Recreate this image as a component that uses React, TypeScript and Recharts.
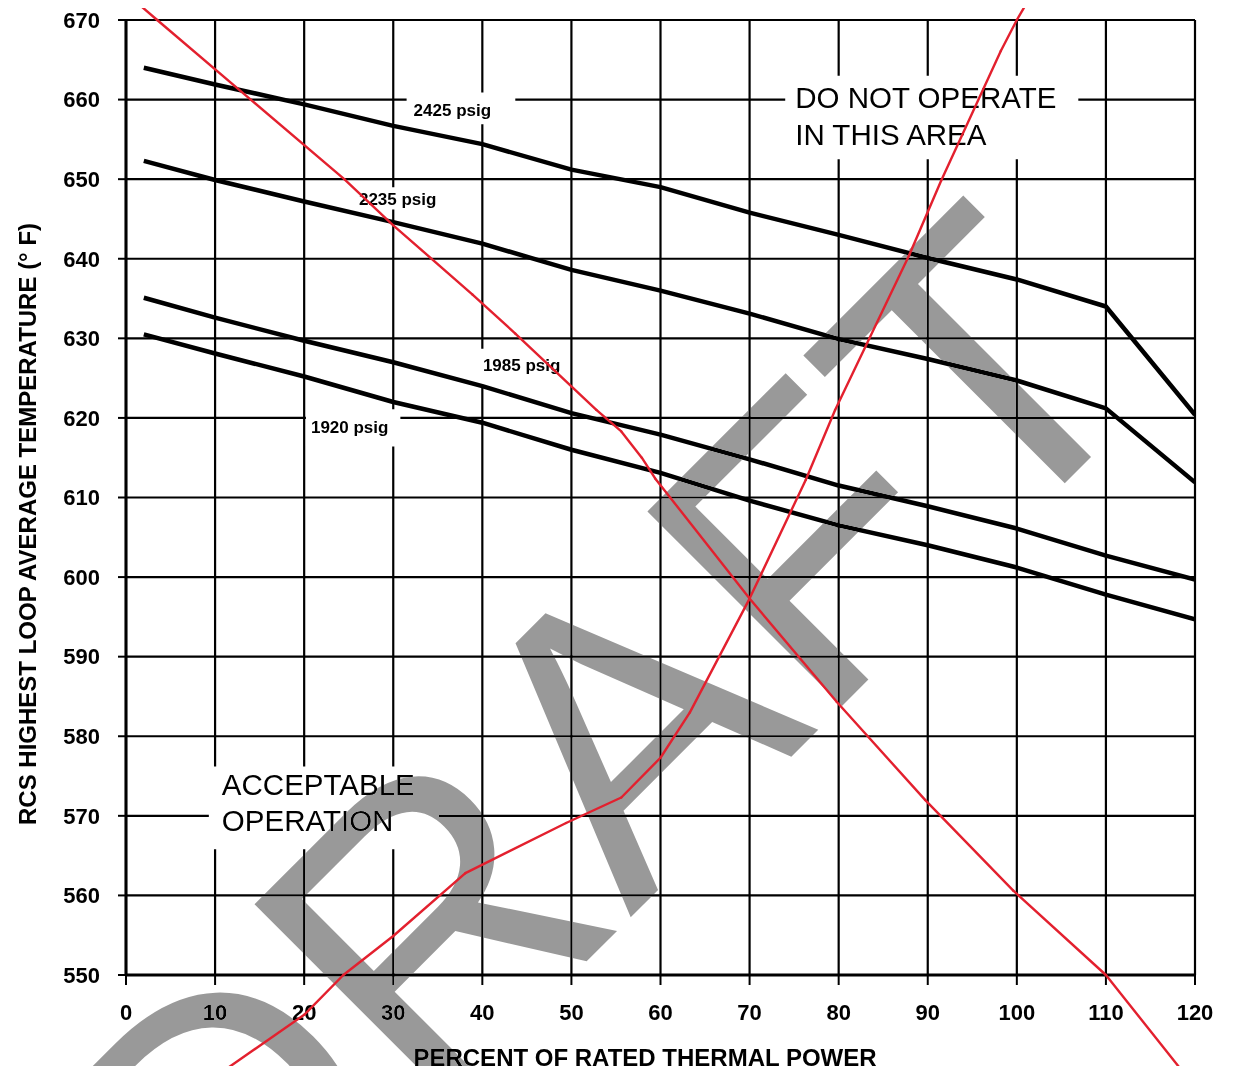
import React from 'react';
import { LineChart, Line, XAxis, YAxis, CartesianGrid, ReferenceArea, ReferenceLine } from 'recharts';

const W = 1236;
const H = 1074;
const MARGIN = { top: 20, right: 41, bottom: 39, left: 26 };
const FONT = '"Liberation Sans", Arial, Helvetica, sans-serif';

// Axis ticks
const xTicks = [0, 10, 20, 30, 40, 50, 60, 70, 80, 90, 100, 110, 120];
const yTicks = [550, 560, 570, 580, 590, 600, 610, 620, 630, 640, 650, 660, 670];

// Black curves: RCS highest loop Tavg (°F) vs % rated thermal power
const power = [2, 10, 20, 30, 40, 50, 60, 70, 80, 90, 100, 110, 120];
const temp2425 = [664, 661.9, 659.4, 656.7, 654.4, 651.2, 649, 645.8, 643, 640.1, 637.4, 634, 620.4];
const temp2235 = [652.3, 649.9, 647.2, 644.6, 641.9, 638.6, 636, 633.1, 629.9, 627.4, 624.7, 621.2, 611.9];
const temp1985 = [635.1, 632.6, 629.7, 627, 624, 620.6, 617.9, 614.8, 611.5, 608.9, 606.1, 602.7, 599.7];
const temp1920 = [630.5, 628.1, 625.2, 622, 619.4, 616, 613.1, 609.6, 606.5, 604, 601.2, 597.8, 594.7];
const seriesNames = ['2425 psig', '2235 psig', '1985 psig', '1920 psig'];

// Red hand-drawn strike-through curves
const fallPower = [0.9, 3.5, 14, 24.5, 30, 38.9, 43.7, 52.8, 55.6, 57.9, 59.4, 70, 79.8, 89.7, 99.6, 110, 118.8];
const fallTemp = [672.5, 670, 660, 650, 644.2, 635.5, 630.6, 621, 618.3, 615, 612.4, 597.3, 584.3, 572, 560.6, 550, 537.6];
const risePower = [10.5, 20, 24.4, 30, 38.1, 49.4, 55.6, 60, 63.3, 70, 76.3, 79.6, 87.9, 91.5, 98.2, 100, 101.3];
const riseTemp = [537.6, 545, 550, 554.9, 562.8, 569.1, 572.3, 577.3, 583, 597.3, 612.2, 621, 640.4, 649.8, 666.1, 670, 672.5];

// Annotation texts
const regionTop = ['DO NOT OPERATE', 'IN THIS AREA'];
const regionBottom = ['ACCEPTABLE', 'OPERATION'];
const xTitle = 'PERCENT OF RATED THERMAL POWER';
const yTitle = 'RCS HIGHEST LOOP AVERAGE TEMPERATURE (° F)';
const watermark = 'DRAFT';

const toRows = (xs: number[], ys: number[]) => xs.map((x, i) => ({ x, y: ys[i] }));
const toSegments = (xs: number[], ys: number[]) =>
  xs.slice(1).map((x, i) => [
    { x: xs[i], y: ys[i] },
    { x, y: ys[i + 1] },
  ]);

const curves = [temp2425, temp2235, temp1985, temp1920].map((t) => toRows(power, t));

const boxLabel = (lines: string[], dx: number, dys: number[], size: number, weight: number) => (props: any) => {
  const vb = props.viewBox || { x: 0, y: 0 };
  return (
    <text fontSize={size} fontWeight={weight} fontFamily={FONT} fill="#000">
      {lines.map((t, i) => (
        <tspan key={i} x={vb.x + dx} y={vb.y + dys[i]}>
          {t}
        </tspan>
      ))}
    </text>
  );
};

// White label boxes (breaking the grid), in data units
const boxes = [
  { x1: 31.5, x2: 43.7, y1: 656.9, y2: 660.9, lines: [seriesNames[0]], dx: 7, dys: [24], size: 17, weight: 700 },
  { x1: 25.7, x2: 35.5, y1: 646.2, y2: 649.0, lines: [seriesNames[1]], dx: 4, dys: [18], size: 17, weight: 700 },
  { x1: 39.5, x2: 49.7, y1: 624.1, y2: 628.7, lines: [seriesNames[2]], dx: 5, dys: [22], size: 17, weight: 700 },
  { x1: 20.2, x2: 30.8, y1: 616.4, y2: 621.1, lines: [seriesNames[3]], dx: 5, dys: [24], size: 17, weight: 700 },
  { x1: 74.0, x2: 106.9, y1: 652.5, y2: 663.0, lines: regionTop, dx: 10, dys: [32, 69], size: 29.5, weight: 400 },
  { x1: 9.3, x2: 35.1, y1: 565.8, y2: 576.2, lines: regionBottom, dx: 13, dys: [29, 65], size: 29.5, weight: 400 },
];

const tickStyle = { fill: '#000', fontSize: 22, fontFamily: FONT, fontWeight: 700 };

export default function App() {
  return (
    <div style={{ position: 'relative', width: W, height: H, margin: -8, background: '#fff', overflow: 'hidden' }}>
      <div style={{ position: 'absolute', left: 0, top: 0 }}>
        <LineChart width={W} height={H} margin={MARGIN}>
          <CartesianGrid stroke="#000" strokeWidth={2.2} />
          <XAxis
            type="number"
            dataKey="x"
            domain={[0, 120]}
            ticks={xTicks}
            interval={0}
            allowDataOverflow
            height={60}
            tickSize={10}
            tickMargin={19}
            axisLine={{ stroke: '#000', strokeWidth: 3 }}
            tickLine={{ stroke: '#000', strokeWidth: 2 }}
            tick={tickStyle}
            label={{
              content: () => (
                <text x={645} y={1066} textAnchor="middle" fontFamily={FONT} fontWeight={700} fontSize={24} fill="#000">
                  {xTitle}
                </text>
              ),
            }}
          />
          <YAxis
            type="number"
            domain={[550, 670]}
            ticks={yTicks}
            interval={0}
            allowDataOverflow
            width={100}
            tickSize={8}
            tickMargin={18}
            axisLine={{ stroke: '#000', strokeWidth: 3 }}
            tickLine={{ stroke: '#000', strokeWidth: 2 }}
            tick={tickStyle}
            label={{
              content: () => (
                <text
                  x={36}
                  y={524}
                  transform="rotate(-90 36 524)"
                  textAnchor="middle"
                  fontFamily={FONT}
                  fontWeight={700}
                  fontSize={24}
                  fill="#000"
                >
                  {yTitle}
                </text>
              ),
            }}
          />
          {boxes.map((b, i) => (
            <ReferenceArea
              key={'box' + i}
              x1={b.x1}
              x2={b.x2}
              y1={b.y1}
              y2={b.y2}
              fill="#fff"
              fillOpacity={1}
              stroke="none"
              ifOverflow="visible"
              label={boxLabel(b.lines, b.dx, b.dys, b.size, b.weight)}
            />
          ))}
          {curves.map((d, i) => (
            <Line
              key={seriesNames[i]}
              data={d}
              dataKey="y"
              name={seriesNames[i]}
              type="linear"
              stroke="#000"
              strokeWidth={4.5}
              strokeLinejoin="round"
              dot={false}
              activeDot={false}
              isAnimationActive={false}
            />
          ))}
        </LineChart>
      </div>
      <svg
        width={W}
        height={H}
        style={{ position: 'absolute', left: 0, top: 0, mixBlendMode: 'darken', pointerEvents: 'none' }}
      >
        <text
          x={693}
          y={855}
          textAnchor="middle"
          fontFamily={FONT}
          fontSize={400}
          fill="#999999"
          transform="rotate(-45 693 855)"
        >
          {watermark}
        </text>
      </svg>
      <div style={{ position: 'absolute', left: 0, top: 0 }}>
        <LineChart width={W} height={H} margin={MARGIN} data={curves[0]}>
          <XAxis
            type="number"
            dataKey="x"
            domain={[0, 120]}
            allowDataOverflow
            height={60}
            tick={false}
            tickLine={false}
            axisLine={false}
          />
          <YAxis
            type="number"
            domain={[550, 670]}
            allowDataOverflow
            width={100}
            tick={false}
            tickLine={false}
            axisLine={false}
          />
          {toSegments(fallPower, fallTemp).map((s, i) => (
            <ReferenceLine
              key={'f' + i}
              segment={s}
              stroke="#e3202e"
              strokeWidth={2.4}
              strokeLinecap="round"
              ifOverflow="visible"
            />
          ))}
          {toSegments(risePower, riseTemp).map((s, i) => (
            <ReferenceLine
              key={'r' + i}
              segment={s}
              stroke="#e3202e"
              strokeWidth={2.4}
              strokeLinecap="round"
              ifOverflow="visible"
            />
          ))}
        </LineChart>
      </div>
    </div>
  );
}
